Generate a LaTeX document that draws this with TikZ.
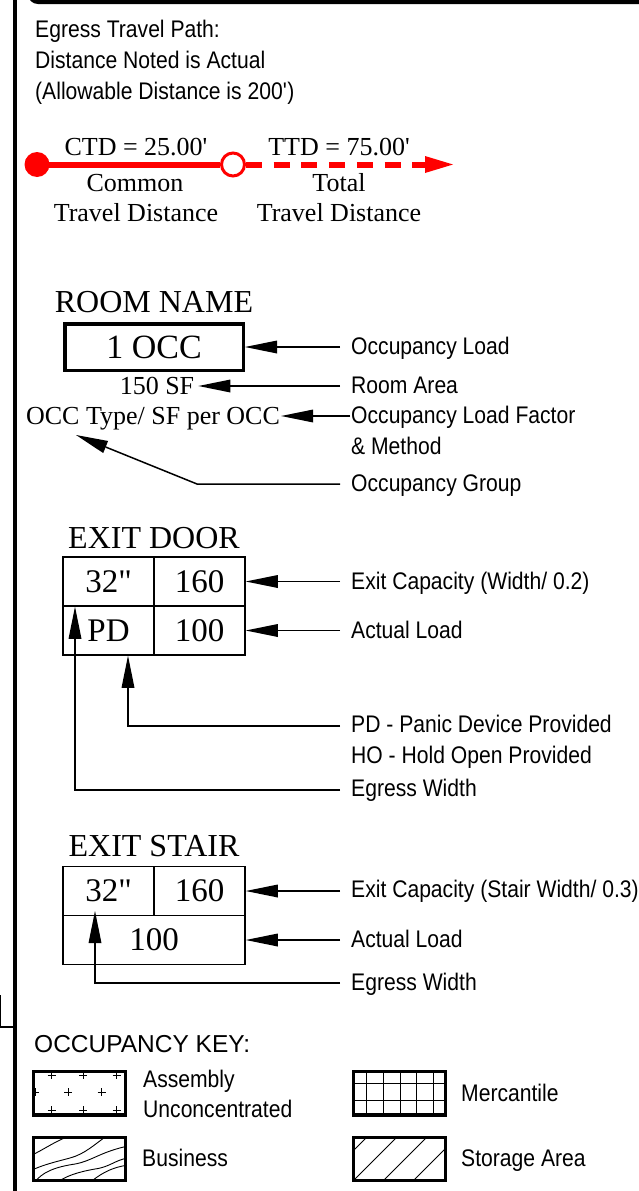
\documentclass[tikz,border=0pt]{standalone}
\usepackage{fontspec}
\setmainfont{Liberation Serif}
\setsansfont{Liberation Sans}[FakeStretch=0.88]
\newfontfamily\keyfont{Liberation Sans}
\usetikzlibrary{arrows.meta}
\begin{document}
\begin{tikzpicture}[x=1pt,y=-1pt,
  sans/.style={font=\sffamily\fontsize{24}{28}\selectfont, inner sep=0pt, anchor=base west},
  ser/.style={font=\fontsize{26}{30}\selectfont, inner sep=0pt, anchor=base},
  hd/.style={font=\fontsize{32}{36}\selectfont, inner sep=0pt, anchor=base},
  cellbox/.style={draw, line width=1.5pt, inner sep=0pt, minimum width=91pt, minimum height=49pt, font=\fontsize{33}{36}\selectfont},
  lead/.style={line width=1.5pt, -{Triangle[length=32pt,width=13pt,line width=0pt]}},
  keybox/.style={draw, line width=3.4pt, minimum width=92.2pt, minimum height=43.3pt, inner sep=0pt},
  thinpat/.style={line width=0.9pt},
]
\useasboundingbox (0,0) rectangle (638,1191);

% frame
\draw[line width=4pt] (15,-5) -- (15,1200);
\draw[line width=4pt, rounded corners=8pt] (645,2) -- (30,2) -- (30,-20);
\draw[line width=1.2pt] (0.6,995) -- (0.6,1027) -- (15,1027);

% egress travel path
\node[sans] (eg1) at (35,37.5) {Egress Travel Path:};
\node[sans] (eg2) at (35,68.5) {Distance Noted is Actual};
\node[sans] (eg3) at (35,99.5) {(Allowable Distance is 200\textquotesingle)};

\node[circle, fill=red, minimum size=25pt, inner sep=0pt] (startdot) at (37,164.5) {};
\node[circle, draw=red, line width=3pt, minimum size=23pt, inner sep=0pt] (midc) at (233,164.5) {};
\coordinate (ttip) at (453,164.5);
\draw[red, line width=6pt] (startdot.center) -- (midc.west);
\draw[red, line width=6pt, dash pattern=on 16pt off 11.7pt, -{Triangle[length=28pt,width=17pt,line width=0pt]}] (midc.east) -- (ttip);

\node[ser] (ctd) at (136,155.6) {CTD = 25.00\textquotesingle};
\node[ser] (ttd) at (339,155.6) {TTD = 75.00\textquotesingle};
\node[ser] (common) at (135,191.3) {Common};
\node[ser] (ctd2) at (136,221) {Travel Distance};
\node[ser] (total) at (339,191.3) {Total};
\node[ser] (ttd2) at (339,221) {Travel Distance};

% room
\node[hd] (roomname) at (154,312.6) {ROOM NAME};
\node[draw, line width=3.5pt, minimum width=178.5pt, minimum height=46.5pt, inner sep=0pt, font=\fontsize{34}{38}\selectfont] (occbox) at (154,347) {1 OCC};
\node[ser] (area) at (157,394.6) {150 SF};
\node[ser] (occtype) at (153,424.6) {OCC Type/ SF per OCC};

\node[sans] (l-occload) at (351,354.5) {Occupancy Load};
\node[sans] (l-area) at (351,393.5) {Room Area};
\node[sans] (l-factor) at (351,423.5) {Occupancy Load Factor};
\node[sans] (l-method) at (351,454.5) {\& Method};
\node[sans] (l-group) at (351,491.5) {Occupancy Group};

\coordinate (a1) at (340,347);
\coordinate (a2) at (340,386);
\coordinate (a3) at (350,416);
\coordinate (a4) at (340,484);
\coordinate (a4b) at (197,484);
\coordinate (ogtip) at (76,435);
\draw[lead] (a1) -- (occbox.east);
\draw[lead] (a2) -- ([xshift=4pt]a2 -| area.east);
\draw[lead] (a3) -- ([xshift=1pt]a3 -| occtype.east);
\draw[lead] (a4) -- (a4b) -- (ogtip);

% exit door
\node[hd] (doorname) at (154,548.6) {EXIT DOOR};
\node[cellbox] (d11) at (108.5,581.5) {32\textquotedbl};
\node[cellbox] (d12) at (199.5,581.5) {160};
\node[cellbox] (d21) at (108.5,630.5) {PD};
\node[cellbox] (d22) at (199.5,630.5) {100};

\node[sans] (l-dcap) at (351,589.5) {Exit Capacity (Width/ 0.2)};
\node[sans] (l-dload) at (351,638.5) {Actual Load};
\node[sans] (l-pd) at (351,732.5) {PD - Panic Device Provided};
\node[sans] (l-ho) at (351,763.5) {HO - Hold Open Provided};
\node[sans] (l-dew) at (351,796.5) {Egress Width};

\coordinate (b1) at (340,581.5);
\coordinate (b2) at (340,630.5);
\coordinate (b3) at (340,726);
\coordinate (b4) at (340,790);
\draw[lead] (b1) -- (d12.east);
\draw[lead] (b2) -- (d22.east);
\draw[lead] (b3) -| ([xshift=19.5pt]d21.south);
\draw[lead] (b4) -| ([xshift=-33.5pt,yshift=-1.5pt]d21.north);

% exit stair
\node[hd] (stairname) at (154,856.6) {EXIT STAIR};
\node[cellbox] (s11) at (108.5,891) {32\textquotedbl};
\node[cellbox] (s12) at (199.5,891) {160};
\node[cellbox, minimum width=182pt] (s2) at (154,940) {100};

\node[sans] (l-scap) at (351,897.5) {Exit Capacity (Stair Width/ 0.3)};
\node[sans] (l-sload) at (351,947.5) {Actual Load};
\node[sans] (l-sew) at (351,990.5) {Egress Width};

\coordinate (c1) at (340,891);
\coordinate (c2) at (340,940);
\coordinate (c3) at (340,983);
\draw[lead] (c1) -- (s12.east);
\draw[lead] (c2) -- (s2.east);
\draw[lead] (c3) -| ([xshift=-13.5pt,yshift=-20pt]s11.center);

% occupancy key
\node[font=\keyfont\fontsize{24.5}{28}\selectfont, inner sep=0pt, anchor=base west] (keytitle) at (34,1052.5) {OCCUPANCY KEY:};

\begin{scope}
\clip (33.4,1071.7) rectangle (125.6,1115);
\foreach \x/\y in {51.7/1075, 83.3/1075, 116.7/1075, 35/1092.3, 68.3/1092.3, 101.7/1092.3, 51.7/1110, 83.3/1110, 116.7/1110}
  \draw[thinpat] (\x-4,\y) -- (\x+4,\y) (\x,\y-4) -- (\x,\y+4);
\end{scope}
\node[keybox] (kasm) at (79.5,1093.35) {};

\begin{scope}
\clip (33.4,1136.7) rectangle (125.6,1181);
\draw[thinpat] (30,1156) .. controls (45,1149) and (55,1141) .. (72,1135);
\draw[thinpat] (30,1171) .. controls (42,1165) and (55,1162) .. (70,1158) .. controls (85,1154) and (95,1144) .. (108,1135);
\draw[thinpat] (34,1183) .. controls (42,1172) and (55,1167) .. (75,1164) .. controls (92,1161) and (100,1152) .. (128,1146);
\draw[thinpat] (55,1184) .. controls (65,1176) and (78,1172) .. (95,1169) .. controls (110,1167) and (115,1160) .. (128,1158);
\draw[thinpat] (88,1184) .. controls (98,1176) and (108,1168) .. (128,1165);
\end{scope}
\node[keybox] (kbus) at (79.5,1158.85) {};

\begin{scope}
\clip (353.4,1071.7) rectangle (445.6,1115);
\foreach \x in {366.7,383.3,400,416.7,433.3}
  \draw[thinpat] (\x,1065) -- (\x,1120);
\foreach \y in {1083.3,1100.7}
  \draw[thinpat] (345,\y) -- (450,\y);
\end{scope}
\node[keybox] (kmer) at (399.5,1093.35) {};

\begin{scope}
\clip (353.4,1136.7) rectangle (445.6,1181);
\foreach \c in {1504,1534,1564,1594}
  \draw[thinpat] (\c-1130,1130) -- (\c-1190,1190);
\end{scope}
\node[keybox] (ksto) at (399.5,1158.85) {};

\node[sans] (l-asm1) at (143,1087.5) {Assembly};
\node[sans] (l-asm2) at (143,1117.5) {Unconcentrated};
\node[sans] (l-mer) at (461,1101.5) {Mercantile};
\node[sans] (l-bus) at (142,1166.5) {Business};
\node[sans] (l-sto) at (461,1166.5) {Storage Area};
\end{tikzpicture}
\end{document}
